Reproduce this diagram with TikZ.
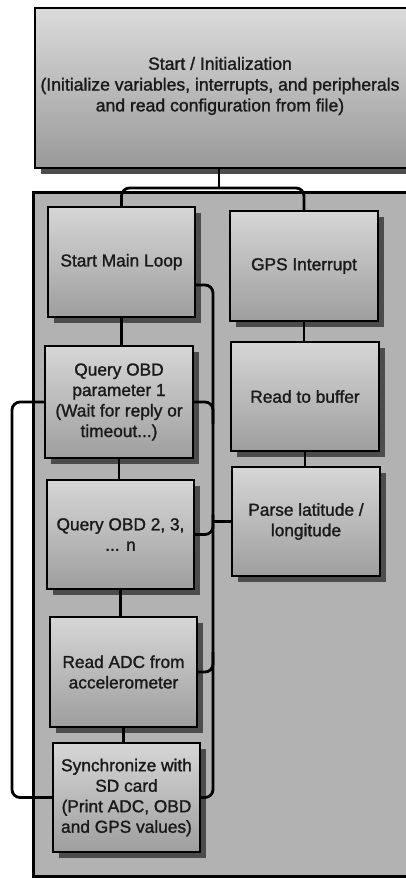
\documentclass[tikz,border=0pt]{standalone}
\usepackage{fontspec}
\setmainfont{Liberation Sans}
\newfontfamily\heavyfont{Liberation Sans}[FakeBold=1.3]
\usetikzlibrary{calc}
\definecolor{boxtop}{gray}{0.84}
\definecolor{boxbot}{gray}{0.62}
\definecolor{inittop}{gray}{0.86}
\definecolor{initbot}{gray}{0.60}
\definecolor{contc}{gray}{0.70}
\definecolor{shadowc}{gray}{0.30}
\definecolor{txtc}{gray}{0.10}
\tikzset{
  shadowed/.style={preaction={fill=shadowc, transform canvas={xshift=6pt,yshift=-6pt}}},
  stepbox/.style={shadowed, draw=black, line width=2.4pt, top color=boxtop, bottom color=boxbot,
    minimum width=147pt, minimum height=110pt, inner sep=0pt, align=center,
    text=txtc, font=\heavyfont\fontsize{17.3}{20.5}\selectfont},
  initbox/.style={shadowed, draw=black, line width=2.4pt, top color=inittop, bottom color=initbot,
    minimum width=400pt, minimum height=160pt, inner sep=0pt},
  contbox/.style={draw=black, line width=2.6pt, fill=contc, minimum width=400pt, minimum height=684pt, inner sep=0pt},
  conn/.style={draw=black, line width=2.8pt, rounded corners=8pt},
  lbl/.style={text=txtc, align=center, font=\heavyfont\fontsize{17.6}{20.8}\selectfont}
}
\begin{document}
\begin{tikzpicture}[x=1pt,y=-1pt]
\useasboundingbox (0,0) rectangle (405,878);
% top initialization box
\node[initbox, anchor=north west] (init) at (34,7) {};
\node[lbl] (initlabel) at (220,86) {Start / Initialization\\(Initialize variables, interrupts, and peripherals\\and read configuration from file)};
% container
\node[contbox, anchor=north west] (main) at (32,191) {};
\coordinate (split) at (219,188);
\coordinate (busx) at (213,0);
\coordinate (lbx) at (12,0);
% boxes
\node[stepbox, minimum width=147pt, minimum height=110pt] (sml) at (121.5,262) {Start Main Loop};
\node[stepbox, minimum width=148pt, minimum height=110pt] (gps) at (304,266) {GPS Interrupt};
\node[stepbox, minimum width=148pt, minimum height=112pt] (q1) at (119,402) {Query OBD\\parameter 1\\(Wait for reply or\\timeout...)};
\node[stepbox, minimum width=148pt, minimum height=109pt] (buf) at (305,396.5) {Read to buffer};
\node[stepbox, minimum width=148pt, minimum height=109pt] (parse) at (306,521.5) {Parse latitude /\\longitude};
\node[stepbox, minimum width=147pt, minimum height=109pt] (q2) at (120.5,534.5) {Query OBD 2, 3,\\... n};
\node[stepbox, minimum width=147pt, minimum height=110pt] (adc) at (123.5,672) {Read ADC from\\accelerometer};
\node[stepbox, minimum width=147pt, minimum height=109pt] (sd) at (126.5,797.5) {Synchronize with\\SD card\\(Print ADC, OBD\\and GPS values)};
% top split connector
\draw[conn] (init.south -| split) -- (split);
\draw[conn] (split) -| (sml.north);
\draw[conn] (split) -| (gps.north);
% vertical chain connectors
\draw[conn] (sml.south) -- (q1.north -| sml.south);
\draw[conn] (q1.south) -- (q2.north -| q1.south);
\draw[conn] (q2.south) -- (adc.north -| q2.south);
\draw[conn] (adc.south) -- (sd.north -| adc.south);
\draw[conn] (gps.south) -- (buf.north -| gps.south);
\draw[conn] (buf.south) -- (parse.north -| buf.south);
% right bus
\draw[conn] ([yshift=-23pt]sml.east) -| (busx |- sd.east) -- (sd.east);
\draw[conn] (q1.east) -| ($(busx |- q1.east)+(0,22)$);
\draw[conn] (q2.east) -| ($(busx |- q2.east)+(0,-20)$);
\draw[conn] (adc.east) -| ($(busx |- adc.east)+(0,-20)$);
\draw[conn] (parse.west) -- (busx |- parse.west);
% left bus
\draw[conn] (q1.west) -| (lbx |- sd.west) -- (sd.west);
\end{tikzpicture}
\end{document}
